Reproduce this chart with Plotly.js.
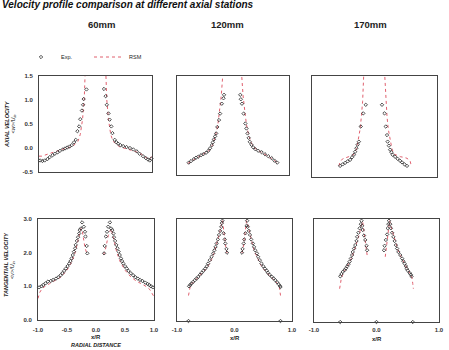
<!DOCTYPE html>
<html><head><meta charset="utf-8">
<script src="https://cdn.plot.ly/plotly-3.0.1.min.js"></script>
<style>html,body{margin:0;padding:0;background:#fff}#chart{width:449px;height:350px}</style>
</head><body><div id="chart"></div>
<script>
// ---- Axial velocity, 60 mm ----
var ax60ExpX = [-0.98,-0.94,-0.90,-0.85,-0.81,-0.76,-0.72,-0.67,-0.63,-0.58,-0.54,-0.50,-0.46,-0.42,-0.38,-0.35,-0.32,-0.29,-0.27,-0.24,-0.22,-0.21,-0.16, 0.15,0.18,0.20,0.23,0.25,0.28,0.30,0.34,0.37,0.40,0.44,0.49,0.55,0.61,0.67,0.73,0.78,0.84,0.89,0.93,0.96,0.99];
var ax60ExpY = [-0.26,-0.27,-0.26,-0.23,-0.19,-0.15,-0.12,-0.09,-0.06,-0.03,-0.01,0.01,0.03,0.06,0.12,0.17,0.35,0.45,0.60,0.78,0.90,1.02,1.22, 1.23,1.08,0.90,0.72,0.59,0.45,0.31,0.17,0.12,0.09,0.06,0.04,0.02,0.00,-0.03,-0.07,-0.12,-0.17,-0.21,-0.24,-0.26,-0.22];
var ax60RsmX = [-1.0,-0.95,-0.9,-0.8,-0.7,-0.6,-0.5,-0.42,-0.36,-0.31,-0.27,-0.23,-0.20,-0.18,-0.17,null,0.17,0.18,0.20,0.23,0.27,0.31,0.36,0.42,0.5,0.6,0.7,0.8,0.9,0.95,1.0];
var ax60RsmY = [-0.17,-0.17,-0.15,-0.11,-0.06,-0.03,0.0,0.03,0.08,0.14,0.28,0.59,1.0,1.49,2.0,null,2.0,1.49,1.0,0.59,0.28,0.14,0.08,0.03,0.0,-0.03,-0.07,-0.12,-0.20,-0.24,-0.17];

// ---- Axial velocity, 120 mm ----
var ax120ExpX = [-0.79,-0.75,-0.70,-0.66,-0.62,-0.57,-0.53,-0.48,-0.44,-0.41,-0.38,-0.36,-0.34,-0.32,-0.30,-0.28,-0.25,-0.23,-0.20,-0.17,-0.16, 0.13,0.14,0.16,0.19,0.22,0.24,0.26,0.28,0.30,0.33,0.36,0.40,0.45,0.51,0.57,0.63,0.69,0.74,0.79];
var ax120ExpY = [-0.25,-0.22,-0.18,-0.15,-0.13,-0.10,-0.08,-0.05,-0.01,0.04,0.10,0.16,0.22,0.28,0.34,0.47,0.61,0.74,0.94,1.05,1.12, 1.12,1.03,0.94,0.74,0.54,0.44,0.34,0.25,0.17,0.11,0.06,0.02,-0.01,-0.04,-0.08,-0.12,-0.16,-0.21,-0.25];
var ax120RsmX = [-0.81,-0.7,-0.6,-0.5,-0.42,-0.36,-0.31,-0.27,-0.24,-0.21,-0.19,-0.18,null,0.15,0.16,0.18,0.21,0.24,0.28,0.33,0.40,0.5,0.6,0.7,0.81];
var ax120RsmY = [-0.27,-0.19,-0.12,-0.06,0.0,0.12,0.30,0.52,0.80,1.1,1.4,1.6,null,1.6,1.4,1.1,0.80,0.52,0.30,0.14,0.03,-0.04,-0.10,-0.17,-0.27];

// ---- Axial velocity, 170 mm ----
var ax170ExpX = [-0.55,-0.51,-0.47,-0.43,-0.39,-0.36,-0.33,-0.31,-0.29,-0.27,-0.25,-0.22,-0.18,-0.14, 0.12,0.16,0.18,0.20,0.21,0.23,0.25,0.27,0.29,0.33,0.37,0.41,0.44,0.48,0.52];
var ax170ExpY = [-0.28,-0.25,-0.22,-0.19,-0.16,-0.11,-0.06,0.0,0.07,0.14,0.20,0.50,0.76,0.93, 0.93,0.76,0.50,0.33,0.20,0.12,0.04,-0.01,-0.06,-0.10,-0.14,-0.18,-0.21,-0.25,-0.28];
var ax170RsmX = [-0.57,-0.55,-0.51,-0.46,-0.42,-0.37,-0.33,-0.29,-0.26,-0.23,-0.21,-0.19,-0.17,null,0.16,0.18,0.20,0.22,0.25,0.28,0.32,0.37,0.42,0.47,0.52,0.57,0.58,0.55];
var ax170RsmY = [-0.28,-0.20,-0.14,-0.12,-0.10,-0.08,-0.05,0.05,0.24,0.45,0.70,1.0,1.6,null,1.6,1.0,0.70,0.45,0.24,0.05,-0.05,-0.08,-0.10,-0.11,-0.13,-0.18,-0.24,-0.29];

// ---- Tangential velocity, 60 mm ----
var tg60ExpX = [-0.98,-0.94,-0.91,-0.87,-0.83,-0.78,-0.74,-0.69,-0.65,-0.61,-0.58,-0.55,-0.52,-0.49,-0.46,-0.44,-0.42,-0.40,-0.38,-0.36,-0.35,-0.33,-0.31,-0.29,-0.28,-0.26,-0.24,-0.21,-0.19,-0.18,-0.16,-0.15,
  0.14,0.15,0.17,0.19,0.21,0.24,0.26,0.28,0.30,0.31,0.33,0.35,0.37,0.39,0.41,0.43,0.45,0.47,0.50,0.53,0.56,0.60,0.64,0.68,0.72,0.76,0.80,0.85,0.89,0.92,0.95,0.98];
var tg60ExpY = [0.97,1.00,1.04,1.09,1.14,1.16,1.19,1.23,1.27,1.33,1.39,1.46,1.53,1.60,1.68,1.75,1.83,1.93,2.03,2.13,2.23,2.35,2.46,2.57,2.67,2.72,2.90,2.77,2.62,2.48,2.20,1.98,
  1.98,2.20,2.48,2.62,2.77,2.90,2.72,2.67,2.57,2.46,2.35,2.23,2.13,2.03,1.93,1.83,1.75,1.68,1.60,1.53,1.46,1.39,1.33,1.27,1.23,1.19,1.16,1.11,1.07,1.04,1.00,0.97];
var tg60RsmX = [-1.0,-0.97,-0.93,-0.88,-0.8,-0.7,-0.6,-0.5,-0.42,-0.36,-0.31,-0.28,-0.26,-0.24,-0.22,-0.19,-0.15,null,0.13,0.17,0.21,0.24,0.26,0.28,0.31,0.36,0.42,0.5,0.6,0.7,0.8,0.88,0.93,0.97,1.0];
var tg60RsmY = [0.64,0.82,0.93,1.0,1.08,1.17,1.28,1.48,1.72,2.0,2.35,2.58,2.72,2.68,2.5,2.15,1.93,null,1.93,2.15,2.5,2.68,2.72,2.58,2.35,2.0,1.72,1.48,1.28,1.15,1.06,0.98,0.90,0.80,0.69];

// ---- Tangential velocity, 120 mm ----
var tg120ExpX = [-0.80,-0.79,-0.77,-0.75,-0.72,-0.69,-0.66,-0.63,-0.60,-0.57,-0.54,-0.51,-0.48,-0.46,-0.43,-0.40,-0.37,-0.35,-0.33,-0.31,-0.29,-0.27,-0.25,-0.23,-0.22,-0.21,-0.19,-0.17,-0.16,-0.14,-0.13,
  0.13,0.14,0.16,0.17,0.19,0.21,0.22,0.23,0.25,0.27,0.29,0.32,0.34,0.36,0.39,0.41,0.44,0.47,0.50,0.53,0.56,0.58,0.61,0.65,0.68,0.71,0.74,0.77,0.79,0.80,0.80];
var tg120ExpY = [0.0,1.02,1.06,1.10,1.15,1.20,1.25,1.30,1.36,1.42,1.48,1.54,1.61,1.69,1.79,1.89,1.99,2.08,2.18,2.28,2.40,2.53,2.65,2.77,2.88,2.95,2.58,2.40,2.28,2.12,2.01,
  2.01,2.12,2.28,2.40,2.58,2.80,2.95,2.77,2.65,2.53,2.40,2.28,2.18,2.08,1.99,1.89,1.79,1.69,1.61,1.54,1.48,1.42,1.36,1.30,1.25,1.20,1.14,1.08,1.03,1.00,0.0];
var tg120RsmX = [-0.80,-0.79,-0.77,-0.74,-0.7,-0.65,-0.6,-0.55,-0.5,-0.45,-0.4,-0.35,-0.31,-0.27,-0.24,-0.22,-0.21,-0.19,-0.17,-0.15,-0.13,null,0.13,0.15,0.17,0.19,0.21,0.23,0.25,0.28,0.32,0.36,0.41,0.46,0.51,0.56,0.61,0.66,0.71,0.75,0.78,0.79,0.80];
var tg120RsmY = [0.75,0.9,1.02,1.1,1.17,1.25,1.33,1.42,1.52,1.64,1.8,2.02,2.25,2.5,2.72,2.9,2.95,2.7,2.4,2.15,2.0,null,2.0,2.15,2.4,2.7,2.95,2.85,2.68,2.45,2.2,2.0,1.8,1.64,1.52,1.42,1.33,1.25,1.17,1.1,1.0,0.9,0.75];

// ---- Tangential velocity, 170 mm ----
var tg170ExpX = [-0.58,-0.58,-0.56,-0.54,-0.51,-0.49,-0.47,-0.45,-0.43,-0.41,-0.39,-0.38,-0.36,-0.34,-0.32,-0.31,-0.29,-0.27,-0.25,-0.24,-0.23,-0.22,-0.20,-0.18,-0.16,-0.15, 0.0,
  0.12,0.13,0.15,0.17,0.18,0.19,0.20,0.22,0.23,0.25,0.27,0.29,0.31,0.33,0.35,0.38,0.41,0.43,0.45,0.47,0.48,0.50,0.53,0.55,0.56,0.58];
var tg170ExpY = [0.0,1.33,1.40,1.46,1.51,1.56,1.62,1.68,1.76,1.85,1.95,2.04,2.14,2.24,2.36,2.48,2.60,2.73,2.85,2.95,2.80,2.68,2.52,2.39,2.22,2.09, 0.0,
  2.09,2.22,2.39,2.55,2.73,2.85,2.95,2.85,2.73,2.60,2.48,2.36,2.24,2.14,2.04,1.95,1.85,1.77,1.70,1.63,1.56,1.50,1.43,1.38,1.33,0.0];
var tg170RsmX = [-0.59,-0.58,-0.56,-0.53,-0.49,-0.45,-0.41,-0.37,-0.33,-0.30,-0.27,-0.25,-0.23,-0.22,-0.20,-0.18,-0.16,-0.15,null,0.14,0.15,0.17,0.19,0.20,0.21,0.23,0.26,0.30,0.34,0.38,0.42,0.46,0.50,0.54,0.57,0.58,0.59];
var tg170RsmY = [0.97,1.15,1.3,1.42,1.54,1.67,1.82,2.0,2.2,2.4,2.6,2.78,2.92,2.9,2.65,2.35,2.1,1.95,null,1.90,2.05,2.3,2.6,2.85,2.95,2.8,2.6,2.35,2.12,1.94,1.79,1.65,1.52,1.40,1.28,1.12,0.97];

// ---- labels ----
var stations = ['60mm','120mm','170mm'];
var seriesNames = ['Exp.','RSM'];
var axialTicks = [-0.5,0,0.5,1,1.5];
var axialTickText = ['-0.5','0.0','0.5','1.0','1.5'];
var tangTicks = [0,1,2,3];
var tangTickText = ['0.0','1.0','2.0','3.0'];
var xTicks1 = [-1,-0.5,0,0.5,1];
var xTickText1 = ['-1.0','-0.5','0.0','0.5','1.0'];
var xTicks2 = [-1,0,1];
var xTickText2 = ['-1.0','0.0','1.0'];

var panels = [
  [ax60ExpX,ax60ExpY,ax60RsmX,ax60RsmY],
  [ax120ExpX,ax120ExpY,ax120RsmX,ax120RsmY],
  [ax170ExpX,ax170ExpY,ax170RsmX,ax170RsmY],
  [tg60ExpX,tg60ExpY,tg60RsmX,tg60RsmY],
  [tg120ExpX,tg120ExpY,tg120RsmX,tg120RsmY],
  [tg170ExpX,tg170ExpY,tg170RsmX,tg170RsmY]
];

var expColor = '#3a3a3a', rsmColor = '#e0606e';
var traces = [];
panels.forEach(function(p,i){
  var xa = 'x'+(i===0?'':(i+1)), ya = 'y'+(i===0?'':(i+1));
  traces.push({x:p[2],y:p[3],xaxis:xa,yaxis:ya,type:'scatter',mode:'lines',name:seriesNames[1],
    line:{color:rsmColor,width:1,dash:'dot'},showlegend:i===0,legendrank:2,connectgaps:false,cliponaxis:true});
  traces.push({x:p[0],y:p[1],xaxis:xa,yaxis:ya,type:'scatter',mode:'markers',name:seriesNames[0],
    marker:{symbol:'diamond-open',size:2.6,color:expColor,line:{width:0.9,color:expColor}},showlegend:i===0,legendrank:1,cliponaxis:false});
});

var W=449,H=350;
function dx(a,b){return [a/W,b/W];}
function dy(top,bot){return [(H-bot)/H,(H-top)/H];}
var FONT = 'Liberation Sans, Arial, sans-serif';
var tickFont = {family:FONT,size:6,color:'#333',weight:'bold'};
function axis(dom,range,anchor,extra){
  var a = {domain:dom,range:range,anchor:anchor,showline:true,mirror:true,linecolor:'#444',linewidth:1,
    showgrid:false,zeroline:false,ticks:'',tickfont:tickFont,fixedrange:true,showticklabels:false};
  for (var k in extra) a[k]=extra[k];
  return a;
}
function note(text,px,py,size,extra){
  var a = {text:text,xref:'paper',yref:'paper',x:px/W,y:(H-py)/H,xanchor:'center',yanchor:'middle',
    showarrow:false,font:{family:FONT,size:size,color:'#222'}};
  for (var k in extra) a[k]=extra[k];
  return a;
}

var layout = {
  width:W,height:H,margin:{l:0,r:0,t:0,b:0},paper_bgcolor:'#fff',plot_bgcolor:'#fff',
  font:{family:FONT,color:'#222'},
  showlegend:true,
  legend:{orientation:'h',x:21/W,xanchor:'left',y:(H-57)/H,yanchor:'middle',font:{family:FONT,size:5.5,color:'#222'},
    entrywidth:23,entrywidthmode:'pixels',bgcolor:'rgba(0,0,0,0)',traceorder:'normal',itemwidth:30},
  xaxis: axis(dx(39,152),[-1,1],'y',{}),
  yaxis: axis(dy(76,172),[-0.5,1.5],'x',{showticklabels:true,tickvals:axialTicks,ticktext:axialTickText,ticklabelstandoff:4}),
  xaxis2: axis(dx(177,289),[-1,1],'y2',{}),
  yaxis2: axis(dy(76,175),[-0.5,1.5],'x2',{}),
  xaxis3: axis(dx(312,437),[-1,1],'y3',{}),
  yaxis3: axis(dy(76,177),[-0.5,1.5],'x3',{}),
  xaxis4: axis(dx(38,154),[-1,1],'y4',{showticklabels:true,tickvals:xTicks1,ticktext:xTickText1,ticklabelstandoff:4}),
  yaxis4: axis(dy(219,320),[0,3],'x4',{showticklabels:true,tickvals:tangTicks,ticktext:tangTickText,ticklabelstandoff:4}),
  xaxis5: axis(dx(177,292),[-1,1],'y5',{showticklabels:true,tickvals:xTicks2,ticktext:xTickText2,ticklabelstandoff:3}),
  yaxis5: axis(dy(219,321),[0,3],'x5',{}),
  xaxis6: axis(dx(314,439),[-1,1],'y6',{showticklabels:true,tickvals:xTicks2,ticktext:xTickText2,ticklabelstandoff:2}),
  yaxis6: axis(dy(219,322),[0,3],'x6',{}),
  annotations:[
    note('<b><i>Velocity profile comparison at different axial stations</i></b>',0,5,10,{xanchor:'left',font:{family:FONT,size:10,color:'#111'}}),
    note('<b>'+stations[0]+'</b>',101,25,9.5,{}),
    note('<b>'+stations[1]+'</b>',227,25,9.5,{}),
    note('<b>'+stations[2]+'</b>',370,25,9.5,{}),
    note('<b><i>AXIAL VELOCITY</i></b>',7,124,5.5,{textangle:-90}),
    note('<i>&lt;w&gt;/U<sub>in</sub></i>',12.5,124,5.5,{textangle:-90}),
    note('<b><i>TANGENTIAL VELOCITY</i></b>',6,265,5.5,{textangle:-90}),
    note('<i>&lt;v&gt;/U<sub>in</sub></i>',12,270,5.5,{textangle:-90}),
    note('<b>x/R</b>',96,337,6,{}),
    note('<b><i>RADIAL DISTANCE</i></b>',96,345,5.5,{}),
    note('<b>x/R</b>',235,338,6,{}),
    note('<b>x/R</b>',377,339,6,{})
  ]
};
Plotly.newPlot('chart',traces,layout,{staticPlot:true,displayModeBar:false});
</script></body></html>
